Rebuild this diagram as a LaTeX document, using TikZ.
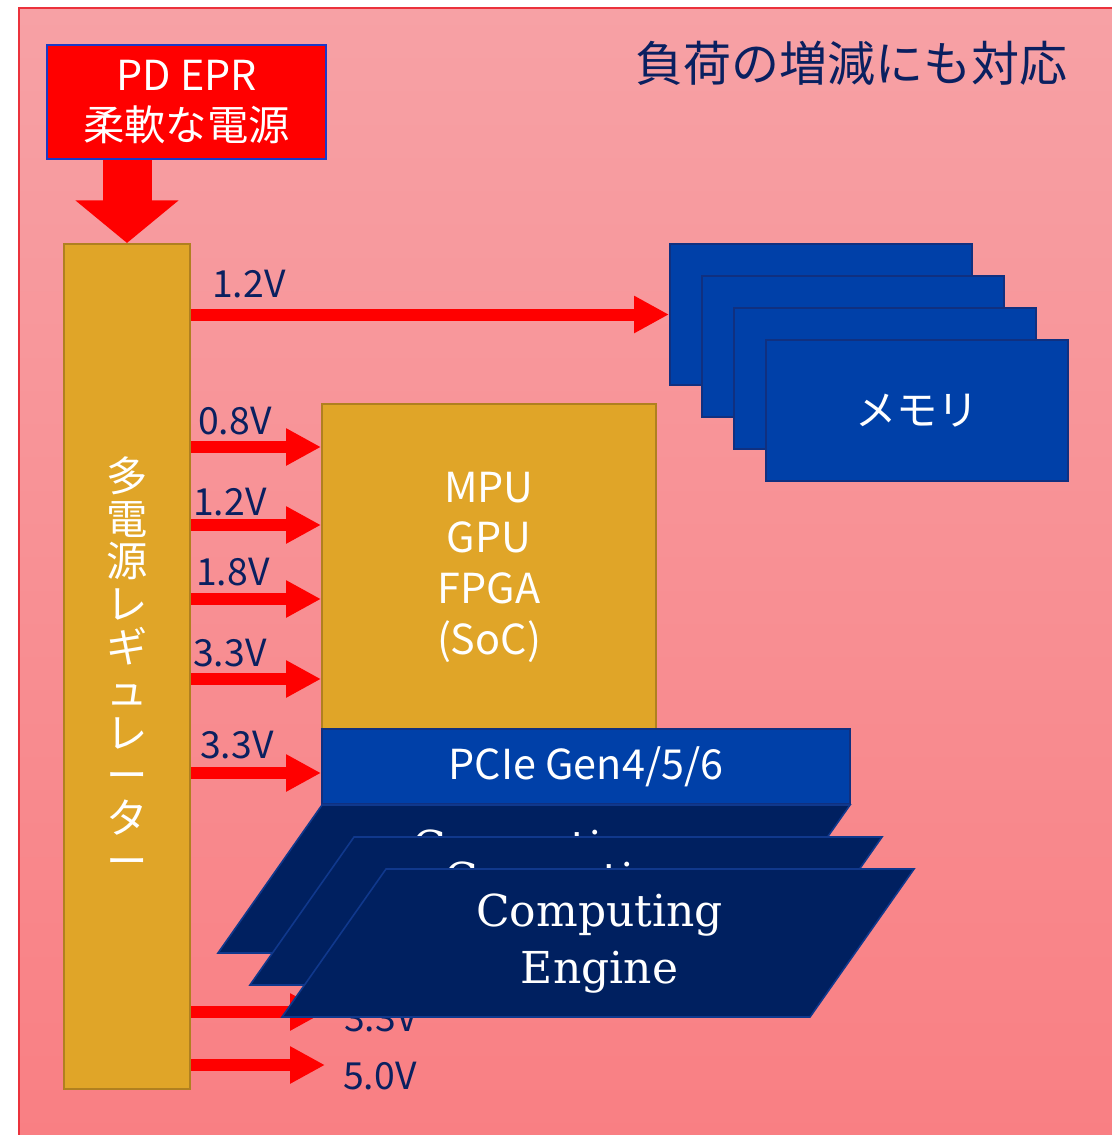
\documentclass[tikz,border=0pt]{standalone}
\usepackage{fontspec}
\setmainfont{Noto Sans CJK JP}
\newfontfamily\slabfont{DejaVu Serif}
\usetikzlibrary{arrows.meta}
\definecolor{panelTop}{RGB}{247,161,165}
\definecolor{panelBot}{RGB}{249,127,131}
\definecolor{panelline}{RGB}{235,50,60}
\definecolor{goldfill}{RGB}{224,165,40}
\definecolor{goldline}{RGB}{176,128,32}
\definecolor{bluefill}{RGB}{0,64,168}
\definecolor{blueline}{RGB}{16,48,128}
\definecolor{parafill}{RGB}{0,32,96}
\definecolor{paraline}{RGB}{16,56,140}
\definecolor{pwrred}{RGB}{255,0,0}
\definecolor{pdline}{RGB}{26,58,200}
\definecolor{labelnavy}{RGB}{10,32,96}
\begin{document}
\begin{tikzpicture}[x=0.75pt,y=-0.75pt,
  goldbox/.style={draw=goldline, fill=goldfill, line width=1.5pt, inner sep=0pt, text=white, align=center},
  bluebox/.style={draw=blueline, fill=bluefill, line width=1.5pt, inner sep=0pt, text=white, align=center,
    minimum width=226.5pt, minimum height=105.75pt},
  pwr/.style={draw=pwrred, line width=9pt, -{Triangle[length=26.25pt,width=26.25pt]}},
  vlabel/.style={anchor=base west, text=labelnavy, font=\fontsize{28pt}{28pt}\selectfont, inner sep=0pt},
  bigfont/.style={font=\fontsize{31pt}{38pt}\selectfont},
  para/.style={draw=paraline, fill=parafill, line width=1.2pt},
  cetext/.style={text=white, align=center, inner sep=0pt, font=\slabfont\fontsize{33pt}{43pt}\selectfont}
]
\useasboundingbox (0,0) rectangle (1112,1135);
% panel
\shade[top color=panelTop, bottom color=panelBot] (19,8) rectangle (1116,1139);
\draw[panelline, line width=1pt] (1116,8) -- (19,8) -- (19,1139);
% title
\node[text=labelnavy, inner sep=0pt, font=\fontsize{36pt}{36pt}\selectfont] (title) at (851.5,63) {負荷の増減にも対応};
% PD EPR box
\node[draw=pdline, fill=pwrred, line width=1.8pt, inner sep=0pt, text=white, align=center, bigfont,
  minimum width=209.25pt, minimum height=85.5pt] (pd) at (186.5,102) {PD EPR\\柔軟な電源};
% regulator
\node[goldbox, minimum width=94.5pt, minimum height=633.75pt, font=\fontsize{31pt}{32.1pt}\selectfont]
  (reg) at (127,666.5) {多\\電\\源\\レ\\ギ\\ュ\\レ\\ー\\タ\\ー};
% main down arrow
\draw[draw=pwrred, line width=36.75pt, -{Triangle[length=32pt,width=75.75pt]}] (reg.north |- pd.south) -- (reg.north);
% memory stack
\node[bluebox] (mem1) at (821,314.5) {};
\node[bluebox] (mem2) at (853,346.5) {};
\node[bluebox] (mem3) at (885,378.5) {};
\node[bluebox, bigfont] (mem4) at (917,410.5) {メモリ};
% 1.2V to memory
\draw[pwr] (reg.east |- mem1.west) -- (mem1.west);
\node[vlabel] (v0) at (212,297) {1.2V};
% MPU box
\node[goldbox, bigfont, minimum width=250.5pt, minimum height=244.5pt] (mpu) at (489,567) {MPU\\GPU\\FPGA\\(SoC)};
% PCIe
\node[bluebox, bigfont, minimum width=396pt, minimum height=56.25pt] (pcie) at (586,766.5) {PCIe Gen4/5/6};
% supply arrows
\coordinate (r1) at (0,447);
\coordinate (r2) at (0,525);
\coordinate (r3) at (0,599);
\coordinate (r4) at (0,679);
\coordinate (r5) at (0,773);
\draw[pwr] (reg.east |- r1) -- (mpu.west |- r1);
\draw[pwr] (reg.east |- r2) -- (mpu.west |- r2);
\draw[pwr] (reg.east |- r3) -- (mpu.west |- r3);
\draw[pwr] (reg.east |- r4) -- (mpu.west |- r4);
\draw[pwr] (reg.east |- r5) -- (pcie.west |- r5);
\node[vlabel] (v1) at (198,434) {0.8V};
\node[vlabel] (v2) at (193,515) {1.2V};
\node[vlabel] (v3) at (196,585) {1.8V};
\node[vlabel] (v4) at (193,666) {3.3V};
\node[vlabel] (v5) at (200,758) {3.3V};
% bottom arrows
\coordinate (e6) at (325,1012);
\coordinate (e7) at (325,1065);
\draw[pwr] (reg.east |- e6) -- (e6);
\draw[pwr] (reg.east |- e7) -- (e7);
\node[vlabel] (v6) at (344,1031) {3.3V};
\node[vlabel] (v7) at (343,1089) {5.0V};
% computing engines
\foreach \k in {0,1,2}{
  \filldraw[para] ({322+32*\k},{805+32*\k}) -- ++(528,0) -- ++(-104,148) -- ++(-528,0) -- cycle;
  \node[cetext] (ce\k) at ({535.5+32*\k},{879.5+32*\k}) {Computing\\Engine};
}
\end{tikzpicture}
\end{document}
